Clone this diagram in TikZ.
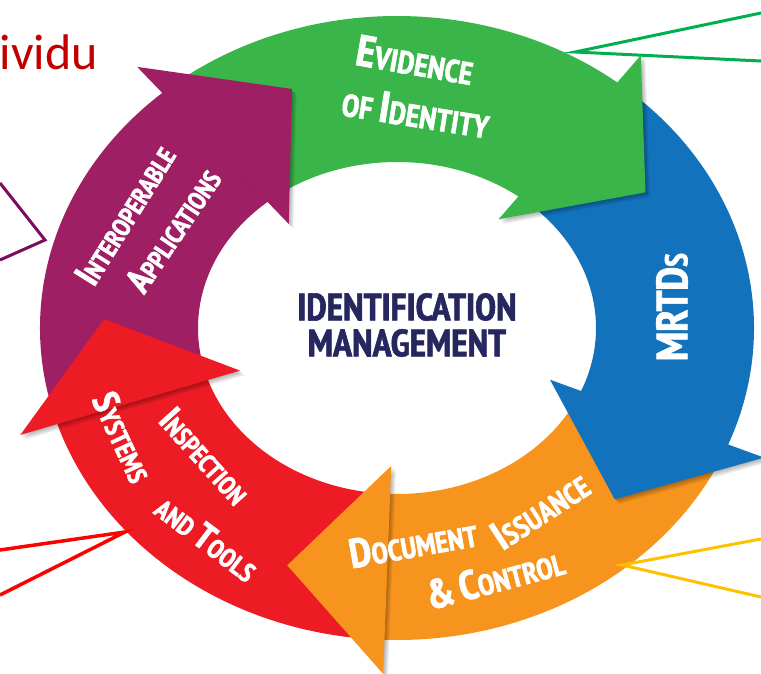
\documentclass[tikz,border=0pt]{standalone}
\usepackage{fontspec}
\newfontfamily\condfont{PT Sans Narrow}[BoldFeatures={FakeBold=1.5}]
\newfontfamily\calfont{Carlito}
\definecolor{idgreen}{HTML}{3AB54A}
\definecolor{idblue}{HTML}{1273BC}
\definecolor{idorange}{HTML}{F7941E}
\definecolor{idred}{HTML}{ED1C24}
\definecolor{idpurple}{HTML}{9E1F63}
\definecolor{idnavy}{HTML}{27275F}
\definecolor{idtitle}{HTML}{C00000}
% small caps by hand, big letter size given by \labelfont
\newcommand\labelfont[1]{\condfont\bfseries\def\bigsz{#1}\pgfmathsetmacro\smallsz{0.72*#1}\fontsize{\smallsz}{\smallsz}\selectfont}
\newcommand\capword[2]{{\fontsize{\bigsz}{\bigsz}\selectfont #1}#2}
% band of the ring (outer 357x312, inner 199x166), from tail angle to base angle
\newcommand\ringbody[3]{%
  \fill[#1] (#2:357pt and 312pt) arc[start angle=#2, end angle={#3-2}, x radius=357pt, y radius=312pt]
    -- ({#3-2}:199pt and 166pt) arc[start angle={#3-2}, end angle=#2, x radius=199pt, y radius=166pt] -- cycle;}
% head of a band, at its base angle
\newcommand\ringhead[2]{%
  \foreach \s in {1,...,6}
    \fill[black,opacity=0.05,shift={(\s*0.8pt,-\s*0.8pt)}] (#2:396pt and 346pt) -- ({#2-20}:293pt and 256pt) -- (#2:165pt and 138pt) -- cycle;
  \fill[#1] (#2:396pt and 346pt) -- ({#2-20}:293pt and 256pt) -- (#2:165pt and 138pt) -- cycle;}
\begin{document}
\begin{tikzpicture}[x=1pt,y=1pt]
  \tikzstyle{lbl}=[text=white,inner sep=0pt]
  \tikzstyle{hub}=[text=idnavy,font=\condfont\bfseries\fontsize{38}{38}\selectfont,inner sep=0pt]
  \tikzstyle{callout}=[line width=3pt,line join=miter]
  \useasboundingbox (-397,-346) rectangle (364,328);

  % bands first, heads on top
  \ringbody{idgreen}{128}{52}
  \ringbody{idblue}{49}{-22}
  \ringbody{idorange}{-25}{-92}
  \ringbody{idred}{-95}{-162}
  \ringbody{idpurple}{195}{131}
  \ringhead{idpurple}{131}
  \ringhead{idgreen}{52}
  \ringhead{idblue}{-22}
  \ringhead{idorange}{-92}
  \ringhead{idred}{-162}

  % labels
  \node[lbl,font=\labelfont{44},rotate=-10] (evid) at (18,268) {\capword{E}{VIDENCE}};
  \node[lbl,font=\labelfont{44},rotate=-9] (ofid) at (19,216) {OF \capword{I}{DENTITY}};
  \node[lbl,font=\labelfont{44},rotate=90] (mrtd) at (275,21) {\capword{MRTD}{S}};
  \node[lbl,font=\labelfont{41},rotate=10] (docu) at (16,-215) {\capword{D}{OCUMENT}};
  \node[lbl,font=\labelfont{41},rotate=33] (issu) at (143,-182) {\capword{I}{SSUANCE}};
  \node[lbl,font=\labelfont{41},rotate=15] (ctrl) at (98,-250) {\capword{\&}{} \capword{C}{ONTROL}};
  \node[lbl,font=\labelfont{36},rotate=-48] (insp) at (-192,-128) {\capword{I}{NSPECTION}};
  \node[lbl,font=\labelfont{37},rotate=-65] (syst) at (-274,-109) {\capword{S}{YSTEMS}};
  \node[lbl,font=\labelfont{37},rotate=-37] (tool) at (-190,-210) {AND \capword{T}{OOLS}};
  \node[lbl,font=\labelfont{36},rotate=58] (inter) at (-272,113) {\capword{I}{NTEROPERABLE}};
  \node[lbl,font=\labelfont{36},rotate=56] (appl) at (-224,98) {\capword{A}{PPLICATIONS}};
  \node[hub] (idf) at (10,21) {IDENTIFICATION};
  \node[hub] (mgmt) at (10,-15) {MANAGEMENT};

  % cut-off callouts of the slide
  \node[text=idtitle,font=\calfont\fontsize{50}{50}\selectfont,anchor=base east,inner sep=0pt] (word) at (-299,258) {ividu};
  \coordinate (gtip) at (178,276);
  \coordinate (ga) at (364,315);
  \coordinate (gb) at (364,267);
  \coordinate (ptip) at (-352,88);
  \coordinate (pa) at (-397,145);
  \coordinate (pb) at (-397,68);
  \coordinate (rtip) at (-272,-204);
  \coordinate (ra) at (-397,-222);
  \coordinate (rb) at (-397,-267);
  \coordinate (ytip) at (225,-237);
  \coordinate (ya) at (364,-211);
  \coordinate (yb) at (364,-269);
  \draw[callout,color={rgb,255:red,0;green,176;blue,80}] (ga) -- (gtip) -- (gb);
  \draw[callout,color={rgb,255:red,123;green,12;blue,94}] (pa) -- (ptip) -- (pb);
  \draw[callout,red,line width=3.5pt] (ra) -- (rtip) -- (rb);
  \draw[callout,color={rgb,255:red,255;green,192;blue,0}] (ya) -- (ytip) -- (yb);
\end{tikzpicture}
\end{document}
